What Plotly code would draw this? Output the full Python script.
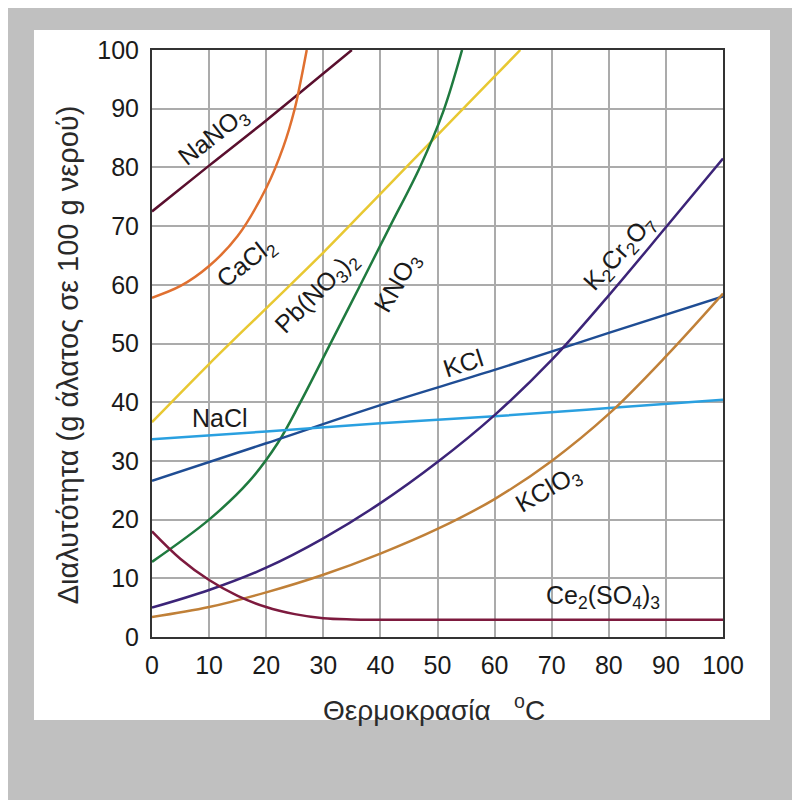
import plotly.graph_objects as go

# ---- data (temperature in °C, g salt / 100 g water) ----
nano3_t = [0, 10, 20, 30, 35]
nano3_s = [72.5, 80.3, 88.0, 96.0, 100.0]

cacl2_t = [0, 5, 10, 15, 20, 23, 25, 26, 27.1]
cacl2_s = [57.8, 59.8, 63.2, 68.3, 76.5, 83.5, 90.0, 94.5, 100.0]

pbno3_t = [0, 10, 20, 30, 40, 50, 60, 64.5]
pbno3_s = [36.6, 46.5, 56.0, 65.5, 75.5, 85.5, 95.5, 100.0]

kno3_t = [0, 10, 17, 22, 26, 31, 36.4, 41.7, 46.9, 51, 54.3]
kno3_s = [12.8, 20.0, 26.5, 33.0, 40.0, 49.5, 59.8, 70.0, 80.0, 89.5, 100.0]

kcl_t = [0, 20, 40, 60, 80, 100]
kcl_s = [26.6, 33.0, 39.5, 45.5, 51.8, 58.0]

nacl_t = [0, 20, 40, 60, 80, 100]
nacl_s = [33.7, 35.0, 36.4, 37.6, 39.0, 40.4]

k2cr2o7_t = [0, 10, 20, 30, 40, 50, 60, 70, 80, 90, 100]
k2cr2o7_s = [5.0, 8.0, 11.8, 16.8, 22.8, 29.8, 37.8, 47.2, 58.2, 69.8, 81.5]

kclo3_t = [0, 10, 20, 30, 40, 50, 60, 70, 80, 90, 100]
kclo3_s = [3.4, 5.1, 7.6, 10.6, 14.2, 18.4, 23.5, 30.0, 38.0, 47.8, 58.5]

ce2so43_t = [0, 5, 10, 15, 20, 25, 30, 35, 40, 100]
ce2so43_s = [18.0, 13.3, 9.7, 7.0, 5.1, 3.9, 3.2, 3.0, 2.95, 2.95]

x_ticks = list(range(0, 101, 10))
y_ticks = list(range(0, 101, 10))

series = [
    (nano3_t, nano3_s, "#5a0f2e"),
    (cacl2_t, cacl2_s, "#e07030"),
    (pbno3_t, pbno3_s, "#e8c832"),
    (kno3_t, kno3_s, "#1f7a3f"),
    (kcl_t, kcl_s, "#1f4d94"),
    (nacl_t, nacl_s, "#2aa0e0"),
    (k2cr2o7_t, k2cr2o7_s, "#3c2478"),
    (kclo3_t, kclo3_s, "#c08038"),
    (ce2so43_t, ce2so43_s, "#7d1a3e"),
]

# curve labels: text, x, y, angle
labels = [
    ("NaNO<sub>3</sub>", 10.7, 85.2, -38),
    ("CaCl<sub>2</sub>", 16.6, 63.7, -38),
    ("Pb(NO<sub>3</sub>)<sub>2</sub>", 28.9, 58.6, -45),
    ("KNO<sub>3</sub>", 43.1, 60.3, -60),
    ("KCl", 54.5, 46.7, -18),
    ("NaCl", 11.9, 37.3, 0),
    ("K<sub>2</sub>Cr<sub>2</sub>O<sub>7</sub>", 82.0, 65.4, -48),
    ("KClO<sub>3</sub>", 69.4, 25.0, -30),
    ("Ce<sub>2</sub>(SO<sub>4</sub>)<sub>3</sub>", 79.0, 6.8, 0),
]

font_fam = "Liberation Sans, Arial, sans-serif"

fig = go.Figure()
for t, s, c in series:
    fig.add_trace(go.Scatter(x=t, y=s, mode="lines", line=dict(color=c, width=2.5, shape="spline"),
                             showlegend=False, hoverinfo="skip"))

for txt, lx, ly, ang in labels:
    fig.add_annotation(x=lx, y=ly, text=txt, textangle=ang, showarrow=False,
                       xanchor="center", yanchor="middle",
                       font=dict(size=25, color="#1a1a1a", family=font_fam))

# axis titles as annotations for exact placement
fig.add_annotation(xref="paper", yref="paper", x=0.494, y=-0.121, text="Θερμοκρασία   <sup>o</sup>C",
                   showarrow=False, xanchor="center", yanchor="middle",
                   font=dict(size=28, color="#2a2a2a", family=font_fam))
fig.add_annotation(xref="paper", yref="paper", x=-0.147, y=0.48, textangle=-90,
                   text="Διαλυτότητα (g άλατος σε 100 g νερού)",
                   showarrow=False, xanchor="center", yanchor="middle",
                   font=dict(size=29, color="#2a2a2a", family=font_fam))

# white panel behind the chart
fig.add_shape(type="rect", xref="paper", yref="paper", x0=-0.2067, x1=1.0823, y0=-0.1414, y1=1.034,
              fillcolor="white", line=dict(width=0), layer="below")

fig.update_xaxes(range=[0, 100], tickvals=x_ticks, showgrid=True, gridcolor="#ababab", gridwidth=2,
                 showline=True, linecolor="#333333", linewidth=2, mirror=True, zeroline=False,
                 ticks="", ticklabelstandoff=5,
                 tickfont=dict(size=25, color="#1a1a1a", family=font_fam))
fig.update_yaxes(range=[0, 100], tickvals=y_ticks, showgrid=True, gridcolor="#ababab", gridwidth=2,
                 showline=True, linecolor="#333333", linewidth=2, mirror=True, zeroline=False,
                 ticks="", ticklabelstandoff=6,
                 tickfont=dict(size=25, color="#1a1a1a", family=font_fam))

# margins allow for the page's 8px body offset
fig.update_layout(
    width=800, height=800,
    margin=dict(l=144, r=85, t=42, b=171),
    paper_bgcolor="#c0c0c0",
    plot_bgcolor="white",
    font=dict(family=font_fam),
)

fig.write_html("out.html")
